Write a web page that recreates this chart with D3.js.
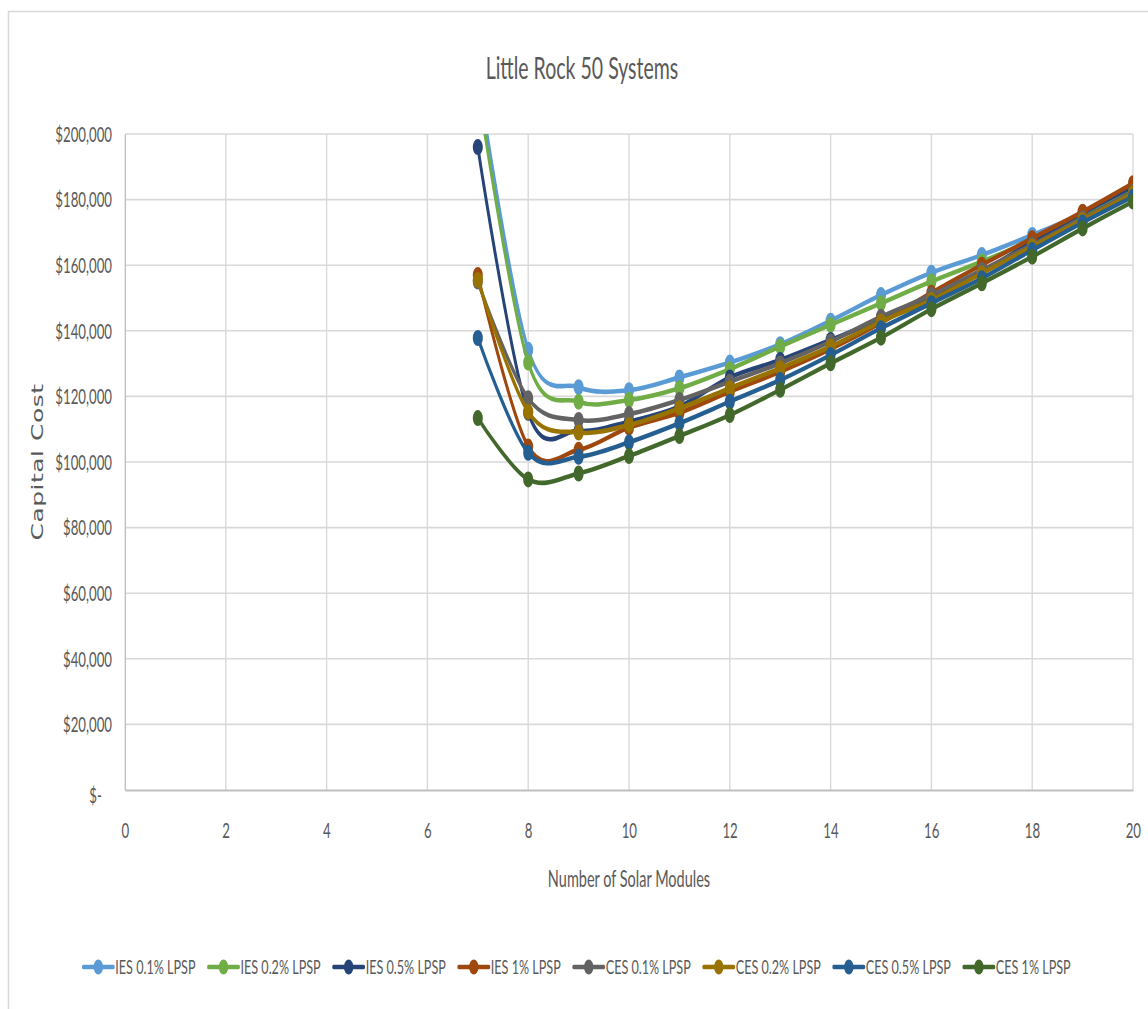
<!DOCTYPE html>
<html>
<head>
<meta charset="utf-8">
<script src="https://cdn.jsdelivr.net/npm/d3@7"></script>
<style>
  html, body { margin: 0; padding: 0; background: #fff; }
  svg { display: block; }
  text { font-family: Lato, "Open Sans", sans-serif; fill: #595959; }
</style>
</head>
<body>
<script>
// Capital cost vs. number of solar modules, Little Rock, 50 systems
const modules = [7, 8, 9, 10, 11, 12, 13, 14, 15, 16, 17, 18, 19, 20];

const seriesNames = [
  "IES 0.1% LPSP", "IES 0.2% LPSP", "IES 0.5% LPSP", "IES 1% LPSP",
  "CES 0.1% LPSP", "CES 0.2% LPSP", "CES 0.5% LPSP", "CES 1% LPSP"
];
const seriesColors = [
  "#5B9BD5", "#70AD47", "#264478", "#9E480E",
  "#636363", "#997300", "#255E91", "#43682B"
];

const ies01 = [218000, 134200, 122800, 121900, 125800, 130300, 135900, 143100, 150900, 157700, 163100, 169200, 175800, 183600];
const ies02 = [214000, 130300, 118400, 118900, 122500, 128300, 135200, 141800, 148400, 155000, 161100, 167700, 175500, 183400];
const ies05 = [196000, 115000, 109500, 112300, 116900, 125800, 131100, 137200, 143500, 150500, 158000, 167200, 175900, 184000];
const ies1  = [157000, 104700, 103700, 110500, 115000, 121400, 127500, 134400, 142400, 151600, 160100, 168200, 176300, 185000];
const ces01 = [155000, 119400, 112800, 114600, 118900, 124500, 130100, 136700, 144300, 150900, 158500, 166200, 174300, 182400];
const ces02 = [155500, 115300, 109000, 111300, 116400, 122500, 128600, 135200, 142800, 149400, 157500, 165700, 173800, 181900];
const ces05 = [137800, 102800, 101600, 106000, 111800, 118400, 125000, 132600, 140800, 148400, 156000, 164600, 173000, 180900];
const ces1  = [113400,  94700,  96500, 101800, 107900, 114300, 122000, 130100, 137900, 146600, 154500, 162600, 171200, 179400];

const seriesValues = [ies01, ies02, ies05, ies1, ces01, ces02, ces05, ces1];

const xTicks = [0, 2, 4, 6, 8, 10, 12, 14, 16, 18, 20];
const yTicks = [0, 20000, 40000, 60000, 80000, 100000, 120000, 140000, 160000, 180000, 200000];

const chartTitle = "Little Rock 50 Systems";
const xTitle = "Number of Solar Modules";
const yTitle = "Capital Cost";

// ---- layout ----
const W = 1148, H = 1009;
const SX = 0.63;                 // horizontal squeeze applied to the whole drawing
const u = v => v / SX;           // page x -> drawing x

const svg = d3.select("body").append("svg").attr("width", W).attr("height", H);

// chart area frame
svg.append("rect")
  .attr("x", 8.5).attr("y", 11.5).attr("width", W + 20).attr("height", H + 20)
  .attr("fill", "none").attr("stroke", "#d9d9d9").attr("stroke-width", 1.5);

const g = svg.append("g").attr("transform", `scale(${SX},1)`);

const x = d3.scaleLinear().domain([0, 20]).range([u(125), u(1133)]);
const y = d3.scaleLinear().domain([0, 200000]).range([790, 134]);

// gridlines
g.append("g").selectAll("line").data(yTicks.filter(d => d > 0)).join("line")
  .attr("x1", x(0)).attr("x2", x(20))
  .attr("y1", d => y(d)).attr("y2", d => y(d))
  .attr("stroke", "#d9d9d9").attr("stroke-width", 1.6);
g.append("g").selectAll("line").data(xTicks.filter(d => d > 0)).join("line")
  .attr("x1", d => x(d)).attr("x2", d => x(d))
  .attr("y1", y(200000)).attr("y2", y(0))
  .attr("stroke", "#d9d9d9").attr("stroke-width", 2.2);

// axes
const fmtMoney = v => v === 0 ? "$-" : "$" + d3.format(",")(v);

const yAxis = g.append("g").attr("transform", `translate(${x(0)},0)`)
  .call(d3.axisLeft(y).tickValues(yTicks).tickFormat(fmtMoney).tickSize(0).tickPadding(u(125) - u(112)));
yAxis.select(".domain").attr("stroke", "#bfbfbf").attr("stroke-width", 2.2);
yAxis.selectAll("text")
  .attr("font-family", "Lato, sans-serif").attr("font-size", 21).attr("fill", "#595959")
  .attr("dx", d => d === 0 ? -16 : 0)
  .attr("dy", d => d === 0 ? "0.6em" : "0.35em");

const xAxis = g.append("g").attr("transform", `translate(0,${y(0)})`)
  .call(d3.axisBottom(x).tickValues(xTicks).tickFormat(d3.format("d")).tickSize(0).tickPadding(33));
xAxis.select(".domain").attr("stroke", "#bfbfbf").attr("stroke-width", 2);
xAxis.selectAll("text")
  .attr("font-family", "Lato, sans-serif").attr("font-size", 21).attr("fill", "#595959");

// series
const clipId = "plot-clip";
g.append("clipPath").attr("id", clipId).append("rect")
  .attr("x", x(0)).attr("y", y(200000)).attr("width", x(20) - x(0)).attr("height", y(0) - y(200000));

const line = d3.line()
  .x((d, i) => x(modules[i]))
  .y(d => y(d))
  .curve(d3.curveCatmullRom.alpha(0));

const plot = g.append("g").attr("clip-path", `url(#${clipId})`);
seriesValues.forEach((vals, k) => {
  const sg = plot.append("g");
  sg.append("path").datum(vals)
    .attr("d", line)
    .attr("fill", "none")
    .attr("stroke", seriesColors[k])
    .attr("stroke-width", 4.6)
    .attr("stroke-linejoin", "round")
    .attr("stroke-linecap", "round");
  sg.selectAll("circle").data(vals).join("circle")
    .attr("cx", (d, i) => x(modules[i]))
    .attr("cy", d => y(d))
    .attr("r", 8)
    .attr("fill", seriesColors[k]);
});

// titles
g.append("text").text(chartTitle)
  .attr("x", u(582)).attr("y", 79)
  .attr("text-anchor", "middle").attr("font-size", 31);

g.append("text").text(xTitle)
  .attr("x", (x(0) + x(20)) / 2).attr("y", 887)
  .attr("text-anchor", "middle").attr("font-size", 23);

g.append("text").text(yTitle)
  .attr("transform", `translate(${u(43)},462) rotate(-90)`)
  .attr("text-anchor", "middle")
  .attr("font-size", 25)
  .attr("letter-spacing", 0.5)
  .style("font-family", "'DejaVu Sans', sans-serif");

// legend
const legend = g.append("g");
const symLen = u(30), symGap = u(2), itemGap = u(13);
const items = seriesNames.map((name, k) => {
  const it = legend.append("g");
  it.append("line").attr("x1", 0).attr("x2", symLen).attr("y1", 0).attr("y2", 0)
    .attr("stroke", seriesColors[k]).attr("stroke-width", 4.6).attr("stroke-linecap", "round");
  it.append("circle").attr("cx", symLen / 2).attr("cy", 0).attr("r", 7.5).attr("fill", seriesColors[k]);
  const t = it.append("text").text(name)
    .attr("x", symLen + symGap).attr("y", 0).attr("dy", "0.36em")
    .attr("font-size", 20);
  return { it, w: symLen + symGap + t.node().getComputedTextLength() };
});
const total = d3.sum(items, d => d.w) + itemGap * (items.length - 1);
let cx = u(577) - total / 2;
items.forEach(d => {
  d.it.attr("transform", `translate(${cx},967)`);
  cx += d.w + itemGap;
});
</script>
</body>
</html>
